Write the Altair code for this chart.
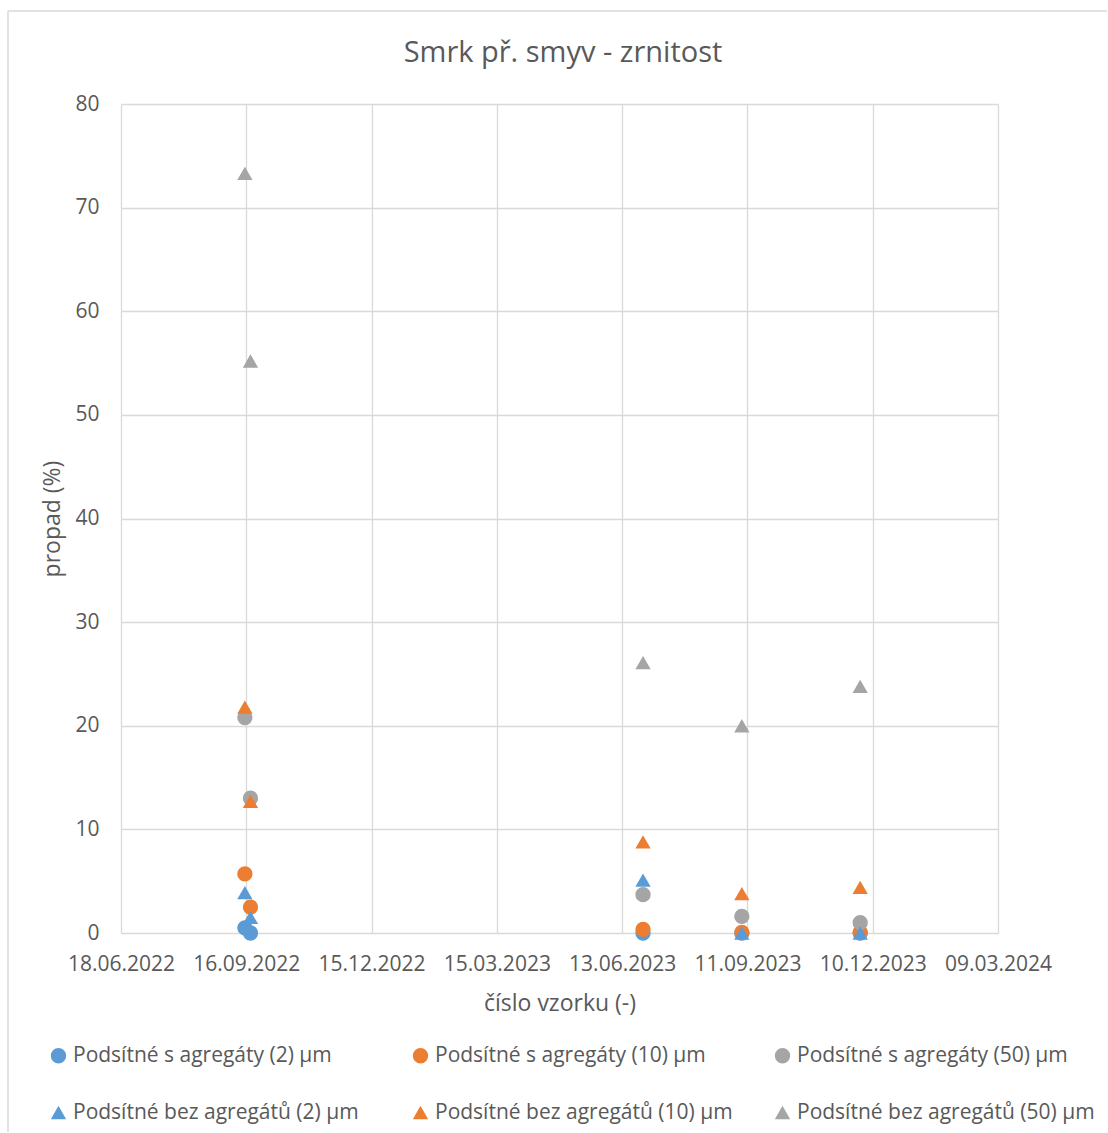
import altair as alt
import pandas as pd

# Sampling dates
dates = ["2022-09-15", "2022-09-19", "2023-06-28", "2023-09-07", "2023-12-01"]

# Series names, in drawing order
series = [
    "Podsítné s agregáty (2) µm",
    "Podsítné s agregáty (10) µm",
    "Podsítné s agregáty (50) µm",
    "Podsítné bez agregátů (2) µm",
    "Podsítné bez agregátů (10) µm",
    "Podsítné bez agregátů (50) µm",
]

# Passing percentage (%) per date
s_agr_2 = [0.5, 0.0, 0.0, 0.0, 0.0]
s_agr_10 = [5.7, 2.5, 0.35, 0.05, 0.05]
s_agr_50 = [20.8, 13.0, 3.7, 1.6, 1.0]
bez_agr_2 = [3.9, 1.5, 5.1, 0.0, 0.0]
bez_agr_10 = [21.8, 12.7, 8.8, 3.8, 4.4]
bez_agr_50 = [73.3, 55.2, 26.1, 20.0, 23.8]

values = [s_agr_2, s_agr_10, s_agr_50, bez_agr_2, bez_agr_10, bez_agr_50]
colors = ["#5B9BD5", "#ED7D31", "#A5A5A5", "#5B9BD5", "#ED7D31", "#A5A5A5"]
shapes = ["circle", "circle", "circle", "triangle-up", "triangle-up", "triangle-up"]
sizes = [235, 235, 235, 280, 280, 280]

chart_title = "Smrk př. smyv - zrnitost"

# Axis ticks (every 90 days)
tick_dates = [
    (2022, 6, 18), (2022, 9, 16), (2022, 12, 15), (2023, 3, 15),
    (2023, 6, 13), (2023, 9, 11), (2023, 12, 10), (2024, 3, 9),
]
y_ticks = list(range(0, 81, 10))

rows = []
for name, vals in zip(series, values):
    for d, v in zip(dates, vals):
        rows.append({"datum": d, "propad": v, "serie": name})
df = pd.DataFrame(rows)


def dt(t):
    return alt.DateTime(year=t[0], month=t[1], date=t[2], utc=True)


FONT = "Open Sans"
TXT = "#595959"
GRID = "#D9D9D9"

legend = alt.Legend(
    title=None,
    orient="none",
    direction="horizontal",
    legendX=-73,
    legendY=941,
    columns=3,
    gridAlign="all",
    columnPadding=39,
    rowPadding=35,
    symbolSize=170,
    labelFont=FONT,
    labelFontSize=21,
    labelColor=TXT,
    labelOffset=4,
    labelLimit=500,
    padding=0,
)

points = alt.Chart(df).mark_point(filled=True, opacity=1).encode(
    x=alt.X(
        "datum:T",
        scale=alt.Scale(type="utc", domain=[dt(tick_dates[0]), dt(tick_dates[-1])], nice=False),
        axis=alt.Axis(
            values=[dt(t) for t in tick_dates],
            labelExpr="utcFormat(datum.value, '%d.%m.%Y')",
            title="číslo vzorku (-)",
            grid=True,
            gridColor=GRID,
            gridWidth=1.3,
            domain=False,
            ticks=False,
            labelFont=FONT,
            labelFontSize=21,
            labelColor=TXT,
            labelPadding=20,
            labelFlush=False,
            labelOverlap=False,
            titleFont=FONT,
            titleFontSize=23,
            titleFontWeight="normal",
            titleColor=TXT,
            titlePadding=18,
        ),
    ),
    y=alt.Y(
        "propad:Q",
        scale=alt.Scale(domain=[0, 80], nice=False),
        axis=alt.Axis(
            values=y_ticks,
            title="propad (%)",
            grid=True,
            gridColor=GRID,
            gridWidth=1.3,
            domain=False,
            ticks=False,
            labelFont=FONT,
            labelFontSize=21,
            labelColor=TXT,
            labelPadding=22,
            titleFont=FONT,
            titleFontSize=23,
            titleFontWeight="normal",
            titleColor=TXT,
            titlePadding=10,
        ),
    ),
    color=alt.Color("serie:N", scale=alt.Scale(domain=series, range=colors), legend=legend),
    shape=alt.Shape("serie:N", scale=alt.Scale(domain=series, range=shapes), legend=legend),
    size=alt.Size("serie:N", scale=alt.Scale(domain=series, range=sizes), legend=None),
)

# Light frame around the chart (top and left edges) and the chart heading
frame_df = pd.DataFrame({"k": [0]})
frame_top = alt.Chart(frame_df).mark_rule(color=GRID, strokeWidth=1.5).encode(
    x=alt.value(-113), x2=alt.value(986), y=alt.value(-93)
)
frame_left = alt.Chart(frame_df).mark_rule(color=GRID, strokeWidth=1.5).encode(
    x=alt.value(-113), y=alt.value(-93), y2=alt.value(1028)
)
heading = alt.Chart(frame_df).mark_text(
    text=chart_title,
    font=FONT,
    fontSize=29,
    color=TXT,
    align="center",
    baseline="middle",
).encode(x=alt.value(442), y=alt.value(-51))

chart = alt.layer(frame_top, frame_left, heading, points).properties(
    width=877,
    height=829,
    padding={"left": 7, "top": 10, "right": 0, "bottom": 0},
).configure_view(stroke=None)

chart.save("out.html", embed_options={"renderer": "svg", "actions": False})
